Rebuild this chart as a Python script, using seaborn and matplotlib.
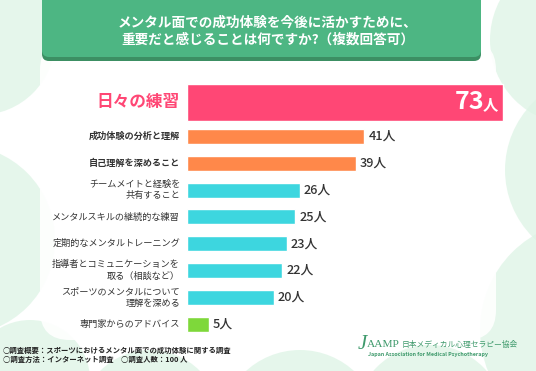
import matplotlib
matplotlib.use("Agg")
import matplotlib.pyplot as plt
from matplotlib.patches import FancyBboxPatch, Circle
import seaborn as sns
import pandas as pd

categories = ["日々の練習", "成功体験の分析と理解", "自己理解を深めること",
              "チームメイトと経験を\n共有すること", "メンタルスキルの継続的な練習",
              "定期的なメンタルトレーニング", "指導者とコミュニケーションを\n取る（相談など）",
              "スポーツのメンタルについて\n理解を深める", "専門家からのアドバイス"]
values = [73, 41, 39, 26, 25, 23, 22, 20, 5]
unit = "人"
bar_colors = ["#FF4775", "#FF884A", "#FF884A", "#3DD6DF", "#3DD6DF",
              "#3DD6DF", "#3DD6DF", "#3DD6DF", "#7ED83A"]
title_lines = ["メンタル面での成功体験を今後に活かすために、",
               "重要だと感じることは何ですか?（複数回答可）"]
footer_lines = ["○調査概要：スポーツにおけるメンタル面での成功体験に関する調査",
                "○調査方法：インターネット調査　○調査人数：100 人"]

sns.set_theme(style="white")
plt.rcParams['font.family'] = ['Noto Sans CJK JP', 'DejaVu Sans']

W, H = 536, 371
fig = plt.figure(figsize=(W / 100, H / 100), dpi=100)
fig.patch.set_facecolor("white")

# background / decoration axes in pixel coords
bg = fig.add_axes([0, 0, 1, 1])
bg.set_xlim(0, W)
bg.set_ylim(H, 0)
bg.axis("off")
circ_col = "#DDF4E5"
for (cx, cy, r) in [(-20, 40, 75), (-40, 240, 95), (30, 380, 60),
                    (575, 40, 85), (600, 170, 95), (590, 330, 110),
                    (150, 420, 70), (300, 430, 80), (430, 420, 75)]:
    bg.add_patch(Circle((cx, cy), r, facecolor=circ_col, edgecolor="none", alpha=0.75, zorder=0))
# white center panel
bg.add_patch(FancyBboxPatch((40, 40), 456, 300, boxstyle="round,pad=0,rounding_size=30",
                            facecolor="white", edgecolor="none", alpha=0.9, zorder=0.5))

# title box
bg.add_patch(FancyBboxPatch((42, -20), 439, 81, boxstyle="round,pad=0,rounding_size=7",
                            facecolor="#3C8F63", edgecolor="none", zorder=1))
bg.add_patch(FancyBboxPatch((42, -20), 439, 77, boxstyle="round,pad=0,rounding_size=7",
                            facecolor="#4DB683", edgecolor="none", zorder=1.1))
bg.text(268, 23, title_lines[0], ha="center", va="center", color="white",
        fontsize=9.8, fontweight="bold", zorder=2)
bg.text(268, 40, title_lines[1], ha="center", va="center", color="white",
        fontsize=9.8, fontweight="bold", zorder=2)

# footer
bg.text(3, 350, footer_lines[0], ha="left", va="center", color="#222222",
        fontsize=5.3, fontweight="bold", zorder=2)
bg.text(3, 359.5, footer_lines[1], ha="left", va="center", color="#222222",
        fontsize=5.3, fontweight="bold", zorder=2)

# logo
logo_c = "#3F9A6C"
bg.text(358, 349, "J", ha="left", va="baseline", color=logo_c, fontsize=15,
        family="Liberation Serif", style="italic", zorder=2)
bg.text(367, 347, "AAMP", ha="left", va="baseline", color=logo_c, fontsize=8.2,
        family="Liberation Serif", zorder=2)
bg.text(402, 346.5, "日本メディカル心理セラピー協会", ha="left", va="baseline",
        color=logo_c, fontsize=5.6, zorder=2)
bg.text(368, 354.5, "Japan Association for Medical Psychotherapy", ha="left", va="center",
        color=logo_c, fontsize=3.9, fontweight="bold", zorder=2)

# bar axes
px_per_unit = 316 / 73
ax = fig.add_axes([187 / W, (H - 340) / H, 349 / W, 260 / H])
ax.patch.set_alpha(0)
df = pd.DataFrame({"cat": categories, "val": values})
sns.barplot(data=df, x="val", y="cat", hue="cat", palette=bar_colors, legend=False,
            orient="h", width=0.56, saturation=1, ax=ax, zorder=3)
ax.set_xlim(0, 349 / px_per_unit)
ax.set_ylim(8.594, -1.108)
ax.axis("off")

# enlarge top bar
patches = sorted([p for p in ax.patches], key=lambda p: p.get_y())
top = patches[0]
top.set_y(-0.96)
top.set_height(1.38)

lab_x = -7 / px_per_unit
for i, (cat, v) in enumerate(zip(categories, values)):
    if i == 0:
        ax.text(lab_x, -0.27, cat, ha="right", va="center", color="#FF4775",
                fontsize=12, fontweight="bold", clip_on=False)
        ax.annotate(unit, xy=(v, -0.2), xytext=(-5, 0), textcoords="offset pixels",
                    ha="right", va="center", color="white", fontsize=11, fontweight="bold")
        ax.annotate(str(v), xy=(v, -0.27), xytext=(-19, 0), textcoords="offset pixels",
                    ha="right", va="center", color="white", fontsize=18, fontweight="bold")
    else:
        bold = "bold" if i in (1, 2) else "normal"
        ax.text(lab_x, i, cat, ha="right", va="center", color="#333333",
                fontsize=6.6, fontweight=bold, linespacing=1.35, clip_on=False)
        ax.annotate(f"{v}{unit}", xy=(v, i), xytext=(4, 0), textcoords="offset pixels",
                    ha="left", va="center", color="#333333", fontsize=9.2, fontweight="medium")

fig.savefig("out.png", dpi=100, facecolor="white")
